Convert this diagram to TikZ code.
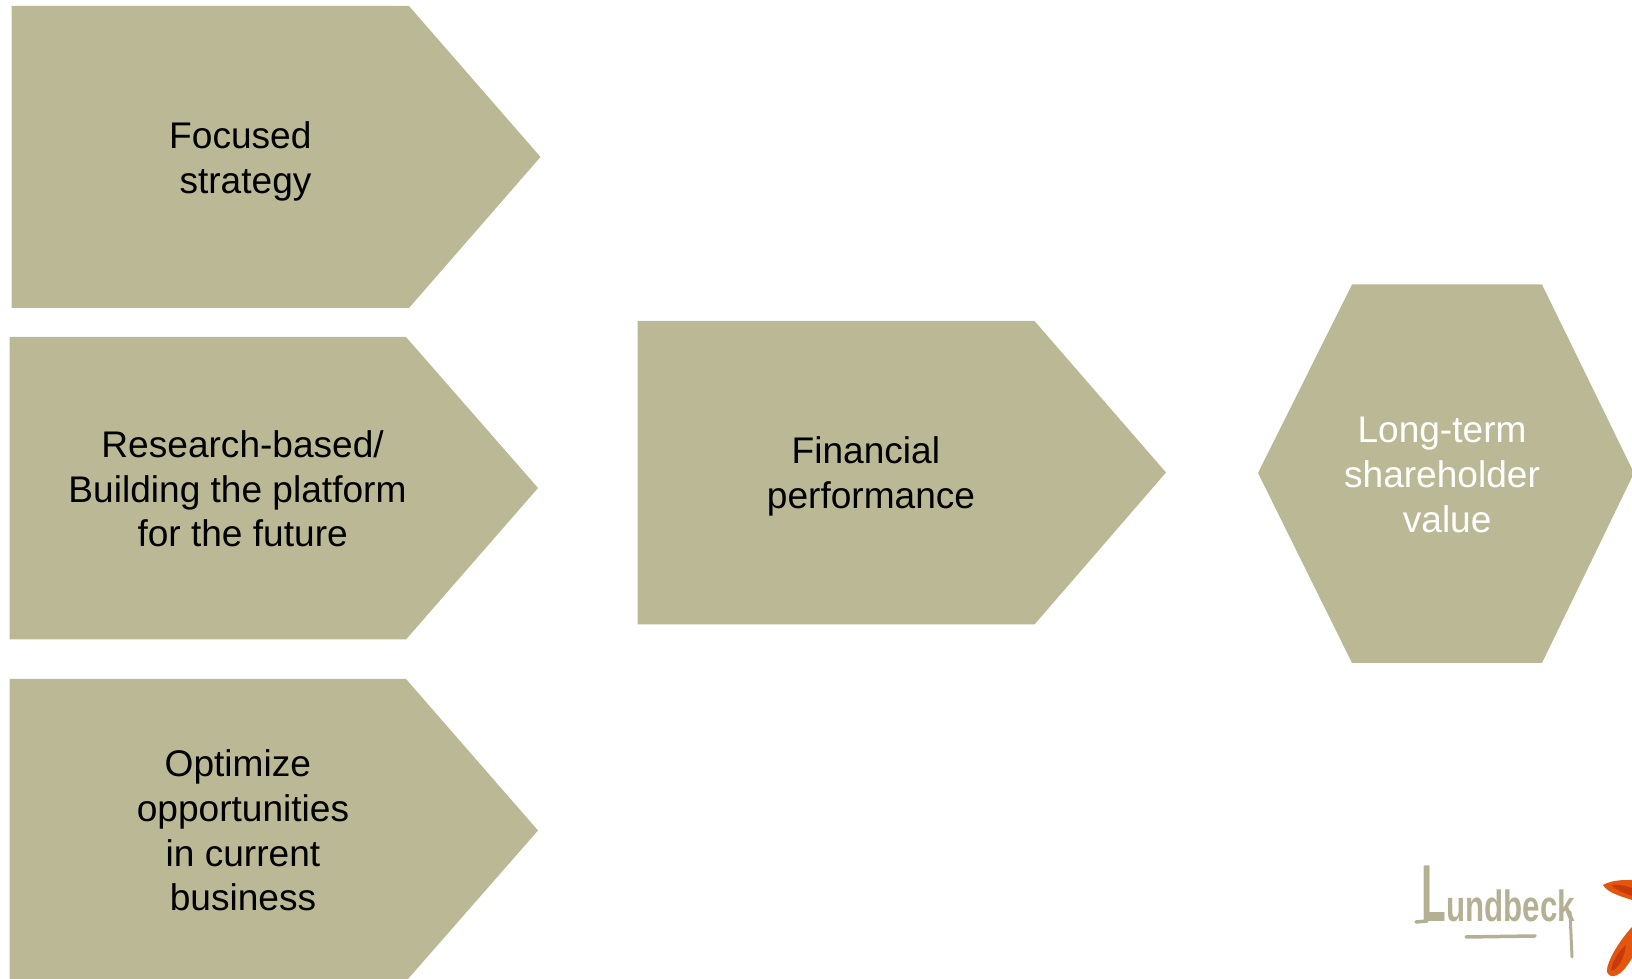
\documentclass[tikz,border=0pt]{standalone}
\usepackage{fontspec}
\setmainfont{Liberation Sans}
\usetikzlibrary{calc}
\definecolor{panelcol}{HTML}{BBB995}
\definecolor{logocol}{HTML}{B4B094}
\definecolor{starcol}{HTML}{E2560F}
\definecolor{stardark}{HTML}{C93A0A}
\newcommand{\gapsp}{\kern2.93pt}
\tikzset{
  panel/.style={fill=panelcol},
  label/.style={align=center,font=\fontsize{10.55pt}{12.7pt}\selectfont,inner sep=0pt},
}

\begin{document}
\begin{tikzpicture}[x=0.1mm,y=-0.1mm]
\useasboundingbox (0,0) rectangle (1632,979);
% the four arrows
\fill[panel] (11.5,6) -- (409,6) -- (540.5,157) -- (409,308) -- (11.5,308) -- cycle;
\fill[panel] (9.5,337) -- (406,337) -- (538,488) -- (406,639.5) -- (9.5,639.5) -- cycle;
\fill[panel] (9.5,679) -- (406,679) -- (538,830.5) -- (408,979) -- (9.5,979) -- cycle;
\fill[panel] (637.5,321) -- (1034.5,321) -- (1166,472.5) -- (1034.5,624.5) -- (637.5,624.5) -- cycle;
% the hexagon
\fill[panel] (1258,473) -- (1352,284.5) -- (1542,284.5) -- (1634,473) -- (1542,663) -- (1352,663) -- cycle;

\draw node[label] (focused) at (245.5,161.5) {Focused\gapsp\\strategy};
\draw node[label] (research) at (237.5,489) {\gapsp Research-based/\\Building the platform\\\gapsp for the future};
\draw node[label] (optimize) at (243,830.5) {Optimize\gapsp\\opportunities\\in current\\business};
\draw node[label] (financial) at (871,476.5) {Financial\gapsp\\performance};
\draw node[label,text=white] (longterm) at (1442,475) {Long-term\\shareholder\\\gapsp value};

% the logo
\draw node[inner sep=0pt,text=logocol,anchor=base west,font=\fontsize{8.9pt}{9pt}\selectfont\bfseries] (logo) at (1421,922) {{\fontsize{23pt}{23pt}\selectfont\scalebox{0.5}[1]{L}}\scalebox{1}[1.4]{undbeck}};
\draw[logocol,line width=0.35mm,line cap=round] (logo.base west) ++(6,-1) -- ++(-11,1);
\draw[logocol,line width=0.35mm,line cap=round] (1466,937) -- (1535,936);
\draw[logocol,line width=0.3mm,line cap=round] (1570,912) -- (1572,957);
\fill[starcol] (1603,885) .. controls (1612,880) and (1622,880) .. (1632,880) -- (1632,900) .. controls (1620,896) and (1608,893) .. cycle;
\fill[stardark] (1611,885) .. controls (1618,884) and (1626,886) .. (1632,888) -- (1632,896) .. controls (1624,893) and (1616,890) .. cycle;
\fill[starcol] (1632,927) .. controls (1620,940) and (1606,962) .. (1607,972) .. controls (1610,979) and (1620,979) .. (1632,958) -- cycle;
\fill[stardark] (1626,945) .. controls (1618,952) and (1612,962) .. (1611,971) .. controls (1617,970) and (1624,960) .. cycle;
\end{tikzpicture}
\end{document}
